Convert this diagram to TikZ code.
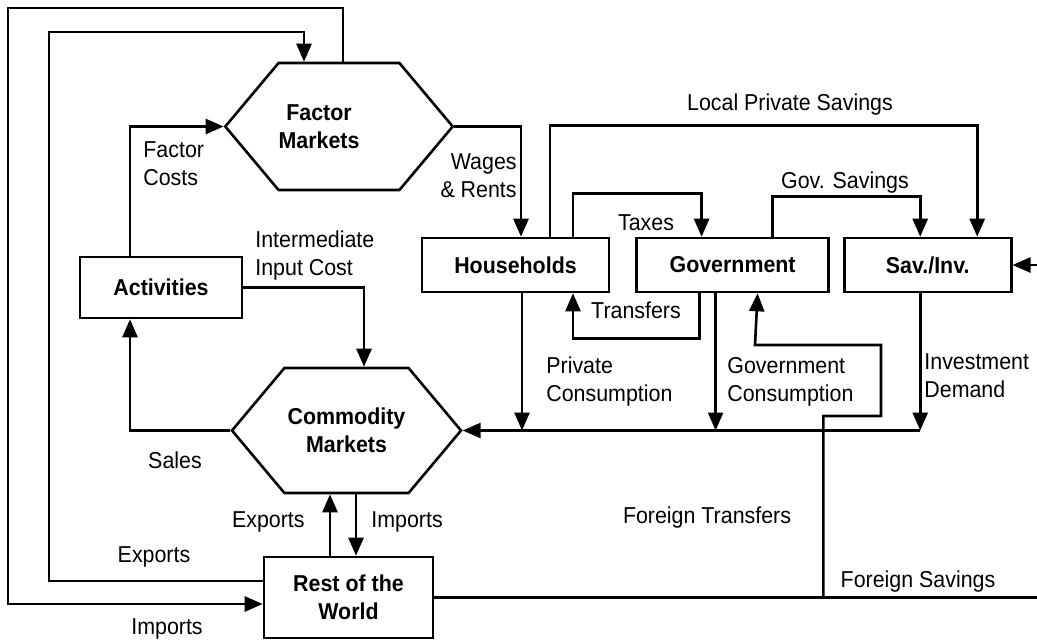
\documentclass[tikz,border=0pt]{standalone}
\usepackage{fontspec}
\setmainfont{Liberation Sans}[FakeStretch=0.93]
\usepackage{tikz}
\usetikzlibrary{arrows.meta,calc,positioning,shapes.symbols}

\begin{document}
\begin{tikzpicture}[x=0.5pt,y=-0.5pt,
    font=\fontsize{11.5}{14}\selectfont,
    flow/.style={line width=1.3pt,-{Triangle[length=9pt,width=7.5pt]}},
    plain/.style={line width=1.3pt},
    note/.style={align=left,inner sep=0pt},
    account/.style={draw,line width=1.3pt,font=\fontsize{11.5}{14}\selectfont\bfseries,align=center,inner sep=0pt},
    market/.style={account,shape=signal,signal to=east and west,signal pointer angle=100}
]
\useasboundingbox (0,0) rectangle (1037,643);

\node[market,minimum width=111pt,minimum height=63.5pt] (fm) at (339,126.5) {Factor\hspace*{20pt}\\Markets\hspace*{20pt}};
\node[market,minimum width=114.5pt,minimum height=62.5pt] (cm) at (346.5,430.5) {Commodity\\Markets};
\node[account,minimum width=81pt,minimum height=30.5pt] (act) at (161,287.5) {Activities};
\node[account,minimum width=93.5pt,minimum height=27pt] (hh) at (515.5,265) {Households};
\node[account,minimum width=96pt,minimum height=27pt,right=12.5pt of hh] (gov) {Government};
\node[account,minimum width=83.5pt,minimum height=27pt,right=6.5pt of gov] (si) {Sav./Inv.};
\node[account,minimum width=84.5pt,minimum height=40.5pt] (row) at (348.5,597.5) {Rest of the\\World};

\coordinate (siin) at (1037,265);
\coordinate (rowout) at (1037,597.5);

\draw[flow] ($(fm.north)+(4,0)$) |- (8,8) |- ($(row.west)+(0,6.5)$);
\draw[flow] ($(row.west)+(0,-16.5)$) -| (49,32) -| ($(fm.north)+(-35,0)$);
\draw[flow] ($(act.north)+(-31,0)$) |- (fm.west);
\draw[flow] (fm.east) -| ($(hh.north)+(5.5,0)$);
\draw[flow] (act.east) -| ($(cm.north)+(17.5,0)$);
\draw[flow] (cm.west) -| ($(act.south)+(-31,0)$);
\draw[flow] ($(row.north)+(-18.5,0)$) coordinate (ex) -- (ex |- cm.south);
\draw[flow] ($(cm.south)+(9.5,0)$) coordinate (im) -- (im |- row.north);
\draw[flow] ($(hh.north)+(34.5,0)$) -- ++(0,-111) -| ($(si.north)+(49.5,0)$);
\draw[flow] ($(hh.north)+(57.5,0)$) -- ++(0,-43) -| ($(gov.north)+(-31,0)$);
\draw[flow] ($(gov.north)+(40,0)$) -- ++(0,-40) -| ($(si.north)+(-7.5,0)$);
\draw[flow] ($(gov.south)+(-33,0)$) -- ++(0,45) -| ($(hh.south)+(57.5,0)$);
\draw[flow] (siin) -- (si.east);
\draw[flow] ($(hh.south)+(6.5,0)$) coordinate (pc) -- (pc |- cm.east);
\draw[flow] ($(gov.south)+(-17,0)$) coordinate (gc) -- (gc |- cm.east);
\draw[flow] ($(si.south)+(-7.5,0)$) coordinate (id) -- (id |- cm.east);
\draw[flow] (id |- cm.east) -- (cm.east);
\draw[plain] (row.east) -- (rowout);
\draw[flow] ($(row.east)+(389,0)$) |- (881,416) |- (755,345) -- ($(gov.south)+(25,0)$);

\node[note,anchor=west] (lblfc) at (143,164) {Factor\\Costs};
\node[note,anchor=east,align=right] (lblwr) at (517,176) {Wages\\\& Rents};
\node[note,anchor=west] (lblii) at (255,256) {Intermediate\\Input Cost};
\node[note] (lblsa) at (175,460) {Sales};
\node[note,anchor=east] (lblex) at (305,522) {Exports};
\node[note,anchor=west] (lblim) at (371,522) {Imports};
\node[note] (lblrx) at (154,557) {Exports};
\node[note] (lblrm) at (167,629) {Imports};
\node[note] (lbllp) at (790,105) {Local Private Savings};
\node[note] (lblgs) at (845,183) {Gov. Savings};
\node[note] (lblta) at (646,223) {Taxes};
\node[note] (lbltr) at (636,310) {Transfers};
\node[note,anchor=west] (lblpc) at (546,382) {Private\\Consumption};
\node[note,anchor=west] (lblgc) at (727,382) {Government\\Consumption};
\node[note,anchor=west] (lblid) at (924,376) {Investment\\Demand};
\node[note] (lblft) at (707,518) {Foreign Transfers};
\node[note] (lblfs) at (918,582) {Foreign Savings};
\end{tikzpicture}
\end{document}
